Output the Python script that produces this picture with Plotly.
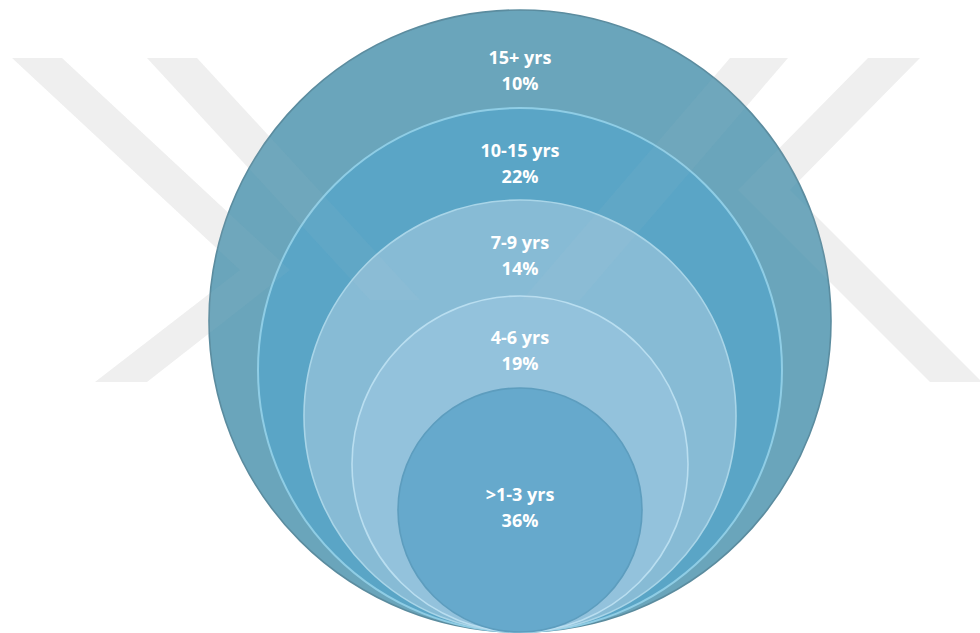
import plotly.graph_objects as go

# Experience bands and their share of respondents (outermost ring first)
categories = ["15+ yrs", "10-15 yrs", "7-9 yrs", "4-6 yrs", ">1-3 yrs"]
shares = [10, 22, 14, 19, 36]

# Nested-circle layout: every circle touches the same baseline
W, H = 980, 633
center_x = 520
baseline_y = 632
radii = [311, 262, 216, 168, 122]
fills = ["#6aa5bb", "#5aa5c6", "#87bbd5", "#93c2dc", "#66a9cc"]
edges = ["#5b8c9f", "#8fcde5", "#a9d5e8", "#b9def0", "#5d9dbe"]
edge_widths = [1.6, 2.0, 1.6, 1.6, 1.6]
label_y = [59, 152, 244, 339, 496]
pct_offset = 26

# Light grey diagonal watermark bands (pixel space)
watermark = [
    [(12, 58), (62, 58), (290, 270), (147, 382), (95, 382), (240, 270)],    # ">" chevron
    [(147, 58), (197, 58), (420, 300), (370, 300)],                           # inner left stroke
    [(868, 58), (920, 58), (790, 190), (982, 382), (930, 382), (738, 190)],  # "<" chevron
    [(730, 58), (788, 58), (580, 300), (522, 300)],                           # inner right stroke
]


def poly_path(pts):
    return "M " + " L ".join(f"{x},{y}" for x, y in pts) + " Z"


shapes = []
for poly in watermark:
    shapes.append(dict(type="path", path=poly_path(poly), xref="x", yref="y",
                       fillcolor="#f1f1f1", line=dict(width=0), layer="below"))

for r, fc, lc, lw in zip(radii, fills, edges, edge_widths):
    shapes.append(dict(type="circle", xref="x", yref="y",
                       x0=center_x - r, x1=center_x + r,
                       y0=baseline_y - 2 * r, y1=baseline_y,
                       fillcolor=fc, line=dict(color=lc, width=lw), layer="below"))

# faint watermark showing through the circles
for poly in watermark:
    shapes.append(dict(type="path", path=poly_path(poly), xref="x", yref="y",
                       fillcolor="rgba(225,225,225,0.05)", line=dict(width=0), layer="below"))

font = dict(family="Open Sans", size=18, color="white", weight="bold")

fig = go.Figure()
fig.add_trace(go.Scatter(
    x=[center_x] * len(categories), y=label_y, mode="text",
    text=categories, textposition="middle center", textfont=font,
    hoverinfo="skip", showlegend=False))
fig.add_trace(go.Scatter(
    x=[center_x] * len(shares), y=[y + pct_offset for y in label_y], mode="text",
    text=[f"{s}%" for s in shares], textposition="middle center", textfont=font,
    hoverinfo="skip", showlegend=False))

fig.update_layout(
    width=W, height=H, margin=dict(l=0, r=0, t=0, b=0),
    paper_bgcolor="white", plot_bgcolor="white",
    xaxis=dict(range=[0, W], visible=False, fixedrange=True),
    yaxis=dict(range=[H, 0], visible=False, fixedrange=True),
    shapes=shapes, showlegend=False,
)

fig.write_html("out.html")
